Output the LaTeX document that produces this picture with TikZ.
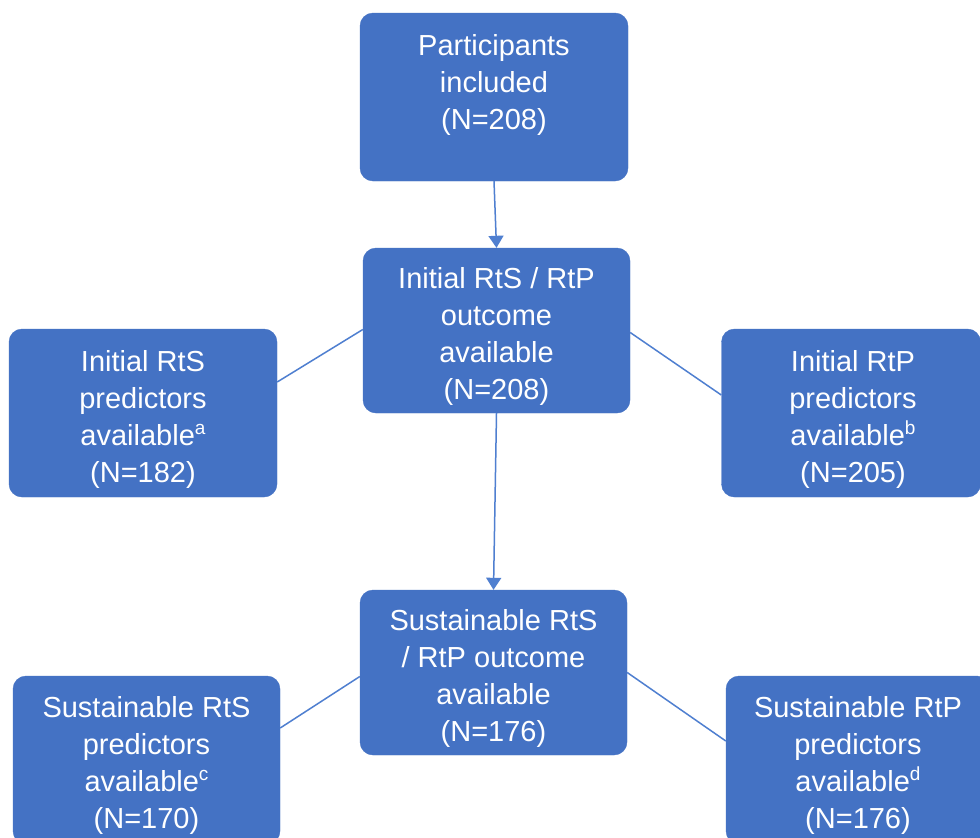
\documentclass[tikz,border=0pt]{standalone}
\usepackage{fontspec}
\setmainfont{Liberation Sans}
\usetikzlibrary{arrows.meta,calc}
\definecolor{boxblue}{HTML}{4472C4}
\definecolor{lineblue}{HTML}{4F7FD0}
\newcommand{\supl}[1]{\raisebox{0.36em}{\fontsize{19}{19}\selectfont #1}}
\tikzset{
  box/.style={draw=boxblue, fill=boxblue, rounded corners=13pt, inner sep=0pt},
  txt/.style={text=white, align=center, inner sep=0pt, font=\fontsize{29}{37}\selectfont},
  conn/.style={draw=lineblue, line width=1.5pt},
  arr/.style={conn, -{Triangle[width=15pt,length=12pt]}}
}
\begin{document}
\begin{tikzpicture}[x=1pt,y=1pt]
\useasboundingbox (0,0) rectangle (980,-838);
\clip (0,0) rectangle (980,-838);
\fill[white] (0,0) rectangle (980,-838);

\node[box, minimum width=268pt, minimum height=168pt] (top) at (494,-97) {};
\node[txt] (toptxt) at (494,-85) {Participants\\included\\(N=208)};

\node[box, minimum width=267pt, minimum height=165pt] (mid) at (496.5,-330.5) {};
\node[txt] (midtxt) at (496.5,-336) {Initial RtS / RtP\\outcome\\available\\(N=208)};

\node[box, minimum width=268pt, minimum height=168pt] (lt) at (143,-413) {};
\node[txt] (lttxt) at (143,-419) {Initial RtS\\predictors\\available\supl{a}\\(N=182)};

\node[box, minimum width=259pt, minimum height=168pt] (rt) at (851,-413) {};
\node[txt] (rttxt) at (853,-419) {Initial RtP\\predictors\\available\supl{b}\\(N=205)};

\node[box, minimum width=267pt, minimum height=165pt] (bot) at (493.5,-672.5) {};
\node[txt] (bottxt) at (493.5,-678) {Sustainable RtS\\/ RtP outcome\\available\\(N=176)};

\node[box, minimum width=267pt, minimum height=168pt] (bl) at (146.5,-760) {};
\node[txt] (bltxt) at (146.5,-765) {Sustainable RtS\\predictors\\available\supl{c}\\(N=170)};

\node[box, minimum width=264pt, minimum height=168pt] (br) at (858,-760) {};
\node[txt] (brtxt) at (858,-765) {Sustainable RtP\\predictors\\available\supl{d}\\(N=176)};

\draw[arr] (top.south) -- (mid.north);
\draw[arr] (mid.south) -- (bot.north);
\draw[conn] ($(mid.west)+(0,1)$) -- ($(lt.east)+(0,31)$);
\draw[conn] ($(mid.east)+(0,-2)$) -- ($(rt.west)+(0,18)$);
\draw[conn] ($(bot.west)+(0,-4)$) -- ($(bl.east)+(0,32)$);
\draw[conn] ($(bot.east)+(0,0)$) -- ($(br.west)+(0,19)$);
\end{tikzpicture}
\end{document}
